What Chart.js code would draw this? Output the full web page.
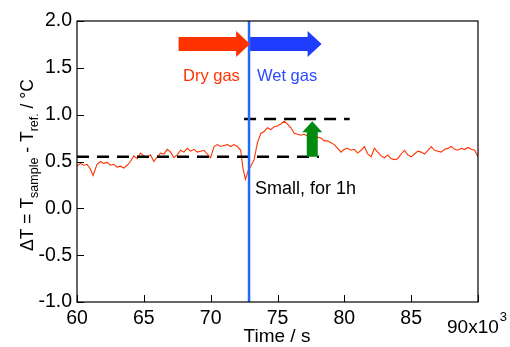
<!DOCTYPE html>
<html>
<head>
<meta charset="utf-8">
<script src="https://cdn.jsdelivr.net/npm/chart.js@4"></script>
<style>
  html, body { margin: 0; padding: 0; background: #fff; }
  canvas { display: block; }
</style>
</head>
<body>
<canvas id="grafico" width="510" height="347"></canvas>
<script>
// dados (tempo em 10^3 s, ΔT em °C)
const tempos = [60.0, 60.25, 60.5, 60.75, 61.0, 61.2, 61.5, 61.75, 62.0, 62.25, 62.5, 62.75, 63.0, 63.25, 63.5, 63.75,
  64.0, 64.25, 64.5, 64.75, 65.0, 65.25, 65.5, 65.75, 66.0, 66.25, 66.5, 66.75, 67.0, 67.25, 67.5, 67.75,
  68.0, 68.25, 68.5, 68.75, 69.0, 69.25, 69.5, 69.75, 70.0, 70.25, 70.5, 70.75, 71.0, 71.25, 71.5, 71.75,
  72.0, 72.25, 72.4, 72.6, 72.8, 73.0, 73.25, 73.5, 73.75, 74.0, 74.25, 74.5, 74.75, 75.0, 75.25, 75.5,
  75.75, 76.0, 76.25, 76.5, 76.75, 77.0, 77.25, 77.5, 77.75, 78.0, 78.25, 78.5, 78.75, 79.0, 79.25, 79.5,
  79.75, 80.0, 80.25, 80.5, 80.75, 81.0, 81.25, 81.5, 81.75, 82.0, 82.25, 82.5, 82.75, 83.0, 83.25, 83.5,
  83.75, 84.0, 84.25, 84.5, 84.75, 85.0, 85.25, 85.5, 85.75, 86.0, 86.25, 86.5, 86.75, 87.0, 87.25, 87.5,
  87.75, 88.0, 88.25, 88.5, 88.75, 89.0, 89.25, 89.5, 89.75, 90.0];
const deltaT = [0.45, 0.48, 0.46, 0.47, 0.42, 0.35, 0.47, 0.50, 0.48, 0.49, 0.46, 0.47, 0.44, 0.45, 0.43, 0.46,
  0.50, 0.56, 0.53, 0.59, 0.56, 0.54, 0.57, 0.50, 0.55, 0.59, 0.58, 0.63, 0.60, 0.54, 0.57, 0.62,
  0.60, 0.64, 0.61, 0.63, 0.60, 0.61, 0.62, 0.58, 0.54, 0.66, 0.68, 0.66, 0.67, 0.68, 0.66, 0.68,
  0.66, 0.62, 0.44, 0.31, 0.40, 0.45, 0.52, 0.70, 0.80, 0.82, 0.86, 0.84, 0.87, 0.88, 0.90, 0.93,
  0.90, 0.86, 0.80, 0.79, 0.78, 0.79, 0.77, 0.78, 0.76, 0.76, 0.75, 0.72, 0.72, 0.70, 0.68, 0.64,
  0.60, 0.63, 0.64, 0.62, 0.63, 0.59, 0.62, 0.66, 0.58, 0.55, 0.64, 0.60, 0.56, 0.54, 0.57, 0.53,
  0.52, 0.53, 0.58, 0.62, 0.57, 0.55, 0.58, 0.61, 0.60, 0.58, 0.62, 0.66, 0.62, 0.61, 0.60, 0.63,
  0.64, 0.66, 0.63, 0.62, 0.64, 0.63, 0.65, 0.63, 0.62, 0.55];

const inicioUmido = 72.87;          // troca para gás úmido
const nivelSeco = 0.55;             // linha tracejada inferior
const faixaSeco = [60, 78.1];
const nivelUmido = 0.955;           // linha tracejada superior
const faixaUmido = [72.5, 80.4];
const setaSeca = [67.6, 72.95, 1.755];   // x0, x1, y
const setaUmida = [72.95, 78.3, 1.755];
const setaVerde = [77.6, 0.55, 0.93];    // x, y0, y1

const xTicks = [60, 65, 70, 75, 80, 85, 90];
const yTicks = [-1.0, -0.5, 0.0, 0.5, 1.0, 1.5, 2.0];

const FONTE = "'Liberation Sans', Arial, sans-serif";

const extras = {
  id: 'extras',
  afterDatasetsDraw(chart) {
    const ctx = chart.ctx;
    const xs = chart.scales.x, ys = chart.scales.y;
    const a = chart.chartArea;
    ctx.save();

    // setas horizontais
    function setaH(s, cor) {
      const x0 = xs.getPixelForValue(s[0]), x1 = xs.getPixelForValue(s[1]);
      const y = ys.getPixelForValue(s[2]);
      ctx.fillStyle = cor;
      ctx.beginPath();
      ctx.moveTo(x0, y - 7);
      ctx.lineTo(x1 - 14, y - 7);
      ctx.lineTo(x1 - 14, y - 13);
      ctx.lineTo(x1, y);
      ctx.lineTo(x1 - 14, y + 13);
      ctx.lineTo(x1 - 14, y + 7);
      ctx.lineTo(x0, y + 7);
      ctx.closePath();
      ctx.fill();
    }
    setaH(setaSeca, '#ff3300');
    setaH(setaUmida, '#1f3dff');

    // seta verde
    const gx = xs.getPixelForValue(setaVerde[0]);
    const gy0 = ys.getPixelForValue(setaVerde[1]);
    const gy1 = ys.getPixelForValue(setaVerde[2]);
    ctx.fillStyle = '#008a0e';
    ctx.beginPath();
    ctx.moveTo(gx - 5.5, gy0);
    ctx.lineTo(gx - 5.5, gy1 + 11);
    ctx.lineTo(gx - 10, gy1 + 11);
    ctx.lineTo(gx, gy1);
    ctx.lineTo(gx + 10, gy1 + 11);
    ctx.lineTo(gx + 5.5, gy1 + 11);
    ctx.lineTo(gx + 5.5, gy0);
    ctx.closePath();
    ctx.fill();

    // textos
    ctx.font = '16.5px ' + FONTE;
    ctx.textBaseline = 'middle';
    ctx.textAlign = 'left';
    ctx.fillStyle = '#ff3300';
    ctx.fillText('Dry gas', 183, 76);
    ctx.fillStyle = '#2a4bff';
    ctx.fillText('Wet gas', 257, 76);
    ctx.fillStyle = '#000';
    ctx.font = '18px ' + FONTE;
    ctx.fillText('Small, for 1h', 255, 189);

    // moldura
    ctx.strokeStyle = '#000';
    ctx.lineWidth = 1.2;
    ctx.strokeRect(a.left, a.top, a.right - a.left, a.bottom - a.top);

    // marcas para dentro
    ctx.lineWidth = 1;
    ctx.beginPath();
    xTicks.forEach(v => {
      const px = Math.round(xs.getPixelForValue(v)) + 0.5;
      ctx.moveTo(px, a.bottom);
      ctx.lineTo(px, a.bottom - 7);
    });
    yTicks.forEach(v => {
      const py = Math.round(ys.getPixelForValue(v)) + 0.5;
      ctx.moveTo(a.left, py);
      ctx.lineTo(a.left + 7, py);
    });
    ctx.stroke();

    // rótulo 90x10^3
    ctx.font = '19px ' + FONTE;
    ctx.textAlign = 'left';
    ctx.textBaseline = 'alphabetic';
    ctx.fillText('90x10', 447, 333);
    const w = ctx.measureText('90x10').width;
    ctx.font = '13px ' + FONTE;
    ctx.fillText('3', 447 + w + 1, 321);

    // título eixo x
    ctx.font = '19px ' + FONTE;
    ctx.textAlign = 'center';
    ctx.textBaseline = 'middle';
    ctx.fillText('Time / s', 277, 337);

    // título eixo y com subscritos
    const partes = [['ΔT = T', 17.5, 0], ['sample', 12.5, 5], [' - T', 17.5, 0], ['ref.', 12.5, 5], [' / °C', 17.5, 0]];
    let total = 0;
    partes.forEach(p => { ctx.font = p[1] + 'px ' + FONTE; total += ctx.measureText(p[0]).width; });
    ctx.translate(33, 165);
    ctx.rotate(-Math.PI / 2);
    ctx.textAlign = 'left';
    ctx.textBaseline = 'alphabetic';
    let pos = -total / 2;
    partes.forEach(p => {
      ctx.font = p[1] + 'px ' + FONTE;
      ctx.fillText(p[0], pos, p[2]);
      pos += ctx.measureText(p[0]).width;
    });
    ctx.restore();
  }
};

const pontos = tempos.map((t, i) => ({ x: t, y: deltaT[i] }));

new Chart(document.getElementById('grafico').getContext('2d'), {
  type: 'line',
  data: {
    datasets: [
      {
        data: [{ x: inicioUmido, y: -1 }, { x: inicioUmido, y: 2 }],
        borderColor: '#1f6bff', borderWidth: 2.5, pointRadius: 0, order: 0
      },
      {
        data: [{ x: faixaSeco[0], y: nivelSeco }, { x: faixaSeco[1], y: nivelSeco }],
        borderColor: '#000', borderWidth: 2.5, borderDash: [12, 8], pointRadius: 0, order: 1
      },
      {
        data: [{ x: faixaUmido[0], y: nivelUmido }, { x: faixaUmido[1], y: nivelUmido }],
        borderColor: '#000', borderWidth: 2.5, borderDash: [12, 8], pointRadius: 0, order: 1
      },
      {
        data: pontos,
        borderColor: '#ff3300', borderWidth: 1.1, pointRadius: 0, tension: 0, order: 2
      }
    ]
  },
  options: {
    responsive: false,
    animation: false,
    layout: { padding: { left: 0, right: 32, top: 21, bottom: 0 } },
    plugins: { legend: { display: false }, tooltip: { enabled: false }, title: { display: false } },
    scales: {
      x: {
        type: 'linear', min: 60, max: 90,
        afterFit: s => { s.height = 45; },
        afterBuildTicks: s => { s.ticks = xTicks.map(v => ({ value: v })); },
        grid: { display: false, drawTicks: false },
        border: { display: false },
        ticks: {
          padding: 5, color: '#000', font: { family: FONTE, size: 19.5 },
          maxRotation: 0, autoSkip: false,
          callback: v => (v === 90 ? '' : String(v))
        }
      },
      y: {
        type: 'linear', min: -1, max: 2,
        afterFit: s => { s.width = 77; },
        afterBuildTicks: s => { s.ticks = yTicks.map(v => ({ value: v })); },
        grid: { display: false, drawTicks: false },
        border: { display: false },
        ticks: {
          padding: 5, color: '#000', font: { family: FONTE, size: 19.5 },
          callback: v => v.toFixed(1)
        }
      }
    }
  },
  plugins: [extras]
});
</script>
</body>
</html>
